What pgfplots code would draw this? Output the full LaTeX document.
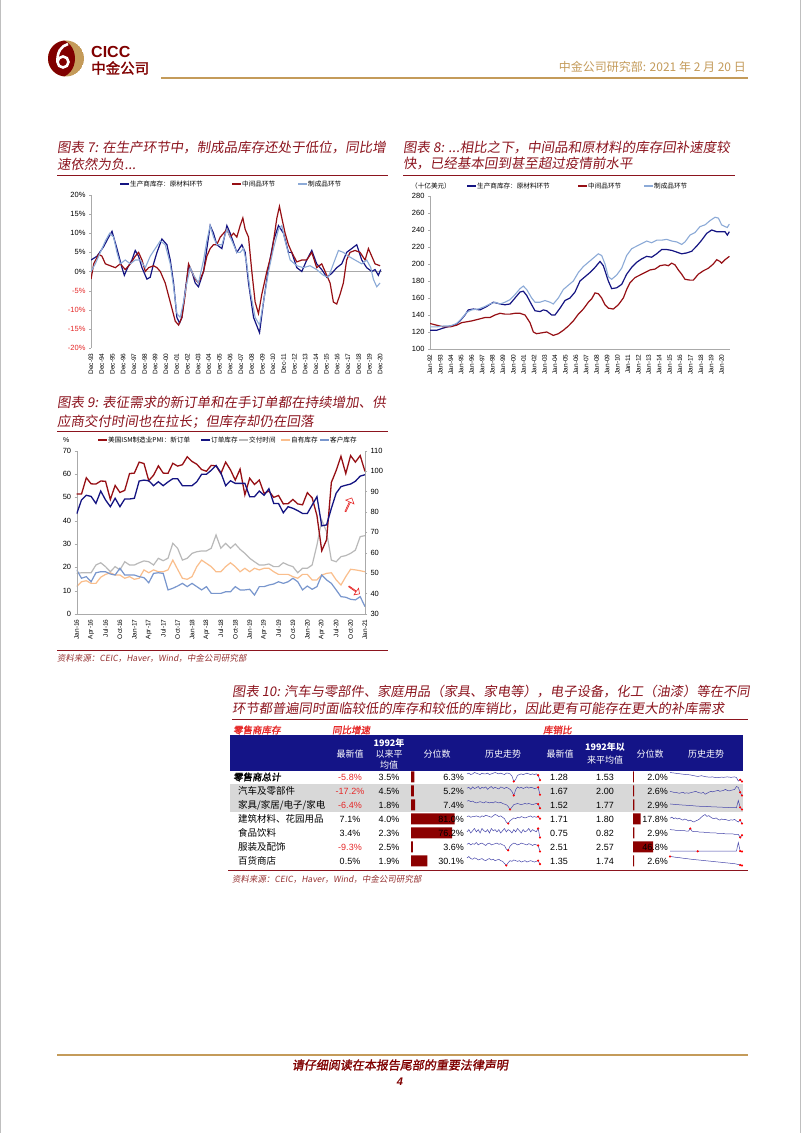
\documentclass[border=0pt]{standalone}
\usepackage{pgfplots}
\pgfplotsset{compat=1.18}
\usepackage{pgfplotstable}
\usepackage{fontspec}
\usetikzlibrary{shapes.arrows}
\setmainfont{Liberation Sans}
\newfontfamily\cjk{Noto Sans CJK SC}
\newfontfamily\cjkit{Noto Sans CJK SC}[FakeSlant=0.15]
\newfontfamily\cjkbi{Noto Sans CJK SC}[FakeSlant=0.15,FakeBold=1.5]
\newfontfamily\cjkb{Noto Sans CJK SC}[FakeBold=1.5]

\definecolor{cicc}{RGB}{128,0,0}
\definecolor{ctitle}{RGB}{140,20,30}
\definecolor{gold}{RGB}{196,155,90}
\definecolor{cnavy}{RGB}{20,20,130}
\definecolor{cred}{RGB}{150,15,20}
\definecolor{clblue}{RGB}{140,170,215}
\definecolor{cgray}{RGB}{185,185,185}
\definecolor{corange}{RGB}{250,190,140}
\definecolor{ccust}{RGB}{120,150,205}
\definecolor{cneg}{RGB}{230,40,40}
\definecolor{cband}{RGB}{20,20,135}
\definecolor{crow}{RGB}{216,216,216}
\definecolor{cbar}{RGB}{140,0,0}
\definecolor{csp}{RGB}{70,70,170}
\definecolor{caxis}{RGB}{170,170,170}
\definecolor{csrc}{RGB}{150,50,50}

\pgfplotsset{chart/.style={scale only axis, anchor=south west,
  axis line style={caxis}, tick style={caxis}, major tick length=2pt, tick align=outside,
  yticklabel style={font=\fontsize{7.5}{8}\selectfont},
  xticklabel style={rotate=90, anchor=east, font=\fontsize{6.5}{7}\selectfont},
  /pgf/number format/assume math mode=true}}

\newcommand{\leg}[4]{\draw[#3, line width=1.3pt] (#1,#2) -- ++(9,0);
  \node[anchor=west, inner sep=0pt, font=\cjk\fontsize{6.6}{7}\selectfont] at ({#1+10},#2) {#4};}

\newcommand{\spark}[5]{%
\begin{axis}[at={(#1pt,#2pt)}, anchor=west, scale only axis, width=#3pt, height=9pt, hide axis, enlargelimits=false, clip=false]
\addplot[color=csp, line width=0.5pt, mark=*, mark size=0.8pt, mark indices={#4}, mark options={fill=red,draw=red}] table[x expr=\coordindex, y=v, row sep=\\] {v\\#5};
\end{axis}}

% ---------------- data ----------------
\pgfplotstableread{
t v
1993.92 3.0
1994.48 4.0
1995.10 6.5
1995.57 9.0
1995.88 10.5
1996.34 6.0
1996.81 1.0
1997.03 -1.0
1997.34 1.0
1997.74 3.0
1998.05 5.5
1998.36 4.0
1998.68 1.0
1999.14 -2.0
1999.45 -1.5
1999.76 2.0
2000.08 5.0
2000.54 8.5
2001.01 7.0
2001.32 3.0
2001.63 -3.0
2001.94 -12.0
2002.19 -13.5
2002.41 -12.0
2002.72 -5.0
2003.03 1.5
2003.34 0.0
2003.65 -3.0
2003.96 -4.0
2004.43 0.0
2004.74 6.0
2005.05 12.0
2005.36 10.0
2005.67 7.0
2006.14 6.0
2006.61 12.0
2006.92 10.0
2007.54 5.0
2008.01 7.0
2008.32 5.0
2008.63 -3.0
2009.10 -12.0
2009.66 -16.0
2010.03 -8.0
2010.50 1.0
2010.96 8.0
2011.43 12.0
2011.90 10.0
2012.36 5.0
2012.67 5.0
2013.14 1.0
2013.61 0.0
2014.07 3.0
2014.54 5.5
2015.00 2.0
2015.47 0.5
2015.94 -1.5
2016.40 -0.5
2016.87 1.0
2017.34 2.0
2017.80 5.0
2018.27 6.0
2018.74 7.0
2019.21 3.0
2019.67 1.0
2020.14 0.0
2020.45 0.5
2020.76 -1.0
2020.98 0.5
}\ctA
\pgfplotstableread{
t v
1993.92 -2
1994.17 2
1994.63 4.5
1994.94 4
1995.26 2
1995.72 1.5
1996.19 1
1996.65 2
1997.12 0.5
1997.59 2
1998.05 4
1998.36 5
1998.68 3
1998.99 0
1999.30 1
1999.76 1.5
2000.08 1
2000.39 0
2000.85 -3
2001.32 -8
2001.79 -13
2002.10 -14
2002.41 -12
2002.72 -6
2003.03 2
2003.34 0
2003.65 -2
2003.96 -3
2004.43 0
2004.74 4
2005.05 6
2005.36 7
2005.67 7
2005.99 9
2006.30 10
2006.61 11
2006.92 9
2007.23 10
2007.54 9
2007.85 12
2008.10 14
2008.32 11
2008.63 9
2008.94 0
2009.25 -8
2009.56 -11
2009.87 -6
2010.34 0
2010.81 5
2011.28 14
2011.52 17
2011.74 14
2012.05 10
2012.36 7
2012.67 5
2013.14 2.5
2013.61 3
2014.07 3
2014.54 5
2015.00 1
2015.47 2
2015.94 -1
2016.25 -3
2016.56 -8
2016.87 -8.5
2017.18 -6
2017.49 -3
2017.80 3
2018.11 5
2018.58 5.5
2019.05 5
2019.52 3
2019.83 6
2020.14 4
2020.45 2
2020.92 1.5
}\ctB
\pgfplotstableread{
t v
1993.92 0
1994.32 2
1994.79 5
1995.26 8
1995.66 10
1996.03 9
1996.34 5
1996.65 2
1997.12 3
1997.59 2
1998.05 3
1998.52 3
1998.99 1
1999.45 4
1999.92 6
2000.39 8
2000.85 7
2001.32 2
2001.63 -4
2001.94 -11
2002.25 -12
2002.56 -8
2002.87 -3
2003.19 1
2003.50 -1
2003.96 -3
2004.43 3
2004.74 8
2005.05 12
2005.36 9
2005.67 7
2006.14 7
2006.61 11
2007.08 8
2007.54 5
2007.85 5
2008.16 6
2008.47 2
2008.78 -5
2009.25 -12
2009.66 -14
2010.03 -8
2010.50 0
2010.96 6
2011.43 11
2011.74 12
2012.05 8
2012.52 3
2013.14 1.5
2013.76 1
2014.38 1.5
2015.00 0.5
2015.63 -1
2016.09 -1.5
2016.56 2
2017.03 5.5
2017.49 5
2017.96 4
2018.58 3
2019.21 2
2019.67 3
2020.05 1
2020.29 -2
2020.61 -4
2020.92 -3
}\ctC
\pgfplotstableread{
t v
1992.00 122
1992.64 122
1993.12 124
1993.92 127
1994.40 128
1994.88 133
1995.36 140
1995.68 146
1996.16 147
1996.80 146
1997.44 150
1998.08 155
1998.72 153
1999.20 152
1999.68 153
2000.16 160
2000.64 167
2000.96 168
2001.28 163
2001.76 152
2002.08 145
2002.56 144
2002.88 146
2003.20 145
2003.68 140
2004.00 140
2004.48 148
2004.96 157
2005.44 160
2005.92 167
2006.40 180
2006.88 185
2007.36 190
2007.84 196
2008.32 203
2008.64 198
2009.12 180
2009.44 171
2009.92 172
2010.40 176
2010.88 188
2011.36 196
2011.84 202
2012.32 206
2012.80 209
2013.28 208
2013.76 212
2014.24 217
2014.72 217
2015.20 216
2015.68 214
2016.16 212
2016.64 213
2017.12 215
2017.60 221
2018.08 228
2018.56 236
2019.04 240
2019.52 238
2020.00 238
2020.32 238
2020.54 234
2020.74 238
}\cdA
\pgfplotstableread{
t v
1992.00 130
1992.64 128
1993.28 126
1993.92 126
1994.56 128
1995.04 131
1995.52 132
1996.00 133
1996.64 135
1997.28 137
1997.76 137
1998.24 140
1998.72 142
1999.20 141
1999.68 141
2000.16 142
2000.64 142
2001.12 140
2001.60 131
2001.92 120
2002.24 118
2002.72 119
2003.20 120
2003.52 118
2003.84 116
2004.32 118
2004.80 122
2005.28 127
2005.76 133
2006.24 141
2006.72 147
2007.20 155
2007.52 159
2007.84 166
2008.16 165
2008.48 160
2008.80 152
2009.12 148
2009.60 147
2010.08 152
2010.56 160
2010.88 170
2011.20 178
2011.68 184
2012.16 187
2012.64 190
2013.12 193
2013.60 194
2014.08 198
2014.56 199
2014.88 198
2015.20 201
2015.52 199
2015.84 193
2016.16 188
2016.48 182
2016.96 181
2017.28 181
2017.76 188
2018.24 192
2018.72 195
2019.20 200
2019.52 205
2019.84 203
2020.00 201
2020.32 205
2020.74 209
}\cdB
\pgfplotstableread{
t v
1992.00 126
1992.64 126
1993.28 127
1993.92 127
1994.56 130
1995.04 136
1995.52 143
1996.00 146
1996.64 147
1997.28 150
1997.76 153
1998.24 155
1998.72 153
1999.20 155
1999.68 158
2000.16 164
2000.64 171
2000.96 174
2001.28 170
2001.76 160
2002.08 155
2002.56 155
2003.04 157
2003.52 155
2003.84 153
2004.32 160
2004.80 170
2005.28 175
2005.76 180
2006.24 190
2006.72 197
2007.20 202
2007.68 207
2008.16 212
2008.48 210
2008.80 200
2009.12 185
2009.44 182
2009.92 187
2010.40 195
2010.88 210
2011.36 218
2011.84 221
2012.32 224
2012.80 227
2013.28 225
2013.76 228
2014.24 228
2014.72 229
2015.20 227
2015.68 226
2016.16 223
2016.48 226
2016.96 234
2017.44 237
2017.92 244
2018.40 246
2018.88 251
2019.36 255
2019.68 254
2020.00 246
2020.32 244
2020.54 243
2020.74 247
}\cdC
\pgfplotstableread{
m no bl sd inv ci
0 51.4 42.9 49.9 43.4 51.6
1 51.4 48.9 50.2 45.8 47.5
2 58.4 50.9 50.2 46.3 48.3
3 55.8 50.4 50.2 45.0 45.8
4 55.7 47.4 54.0 45.0 50.2
5 57.0 52.7 55.1 48.0 50.7
6 56.9 48.9 53.2 49.4 50.7
7 49.1 46.0 50.7 50.2 49.6
8 55.1 49.6 53.2 49.1 49.1
9 52.1 46.0 51.6 49.1 52.4
10 53.0 49.3 55.6 47.5 49.1
11 60.2 49.3 54.0 48.3 49.1
12 60.4 49.6 54.0 47.0 49.1
13 65.1 57.0 55.1 47.5 48.3
14 64.5 57.4 56.0 51.6 47.8
15 57.2 57.1 55.6 50.2 45.3
16 59.5 55.0 54.0 51.6 49.9
17 63.5 56.7 57.3 50.7 50.2
18 60.4 55.0 56.1 50.7 49.9
19 60.3 56.6 57.3 51.6 41.8
20 64.6 58.0 64.6 56.4 42.6
21 63.4 58.0 62.2 51.9 43.7
22 64.0 55.0 56.4 47.5 45.0
23 67.4 55.0 57.3 47.0 43.4
24 65.4 55.0 59.7 48.3 45.0
25 64.2 56.7 60.5 53.2 43.4
26 61.9 59.9 60.9 56.4 41.8
27 61.2 59.9 60.9 54.8 43.4
28 63.7 61.6 62.2 53.2 40.1
29 63.5 63.7 68.7 50.7 40.1
30 60.2 60.6 62.2 50.7 40.1
31 65.1 55.0 64.6 53.2 40.9
32 61.8 57.1 62.2 55.1 40.9
33 57.4 56.0 64.3 53.2 43.4
34 62.1 56.0 61.7 50.7 41.8
35 51.1 56.0 59.7 52.4 41.8
36 58.2 50.3 57.3 50.7 42.1
37 55.5 50.3 55.6 52.4 39.3
38 57.4 52.7 54.0 51.6 43.4
39 51.7 50.9 54.0 52.4 43.4
40 52.7 53.7 54.5 52.4 44.2
41 50.0 47.4 53.2 50.7 44.7
42 50.8 47.4 53.2 49.4 45.8
43 47.2 43.4 55.1 49.4 45.0
44 47.3 46.0 54.0 49.4 45.8
45 49.1 45.3 53.2 48.3 47.5
46 47.2 44.3 50.2 47.5 45.8
47 46.8 43.1 52.4 49.4 41.8
48 52.0 43.1 52.4 49.4 43.7
49 49.8 46.7 54.0 46.7 42.1
50 42.2 50.3 63.8 46.7 43.4
51 27.1 37.8 76.0 49.1 49.1
52 31.8 38.2 70.3 49.9 46.7
53 56.4 45.3 56.4 50.2 45.0
54 61.5 51.8 55.6 46.7 41.8
55 67.6 54.6 58.1 44.2 38.5
56 60.2 55.2 58.6 48.3 38.2
57 67.9 55.7 59.7 51.9 37.2
58 65.1 56.9 61.3 51.6 36.9
59 67.9 59.1 67.9 51.2 38.5
60 61.1 59.7 68.4 50.7 33.6
}\ism

\begin{document}
\begin{tikzpicture}[x=1pt,y=1pt]
\path[use as bounding box] (0,0) rectangle (802,1133);
\fill[white] (0,0) rectangle (802,1133);
\draw[gray!50, line width=0.8pt] (0.5,0) -- (0.5,1133);
\draw[gray!50, line width=0.8pt] (800.5,0) -- (800.5,1133);

% ---------- header ----------
\begin{scope}
\clip (66,1074.5) circle (18);
\fill[gold] (66,1074.5) circle (18);
\fill[cicc] (59,1074.5) ellipse (16 and 19);
\end{scope}
\draw[white, line width=2.6pt] (63,1071) circle (5.5);
\draw[white, line width=2.6pt] (57.5,1071) .. controls (57,1081) and (61,1087) .. (68,1089);
\fill[cicc] (63,1071) circle (2.2);
\node[anchor=west, inner sep=0pt, text=cicc, font=\bfseries\fontsize{16}{16}\selectfont] at (91,1080.5) {CICC};
\node[anchor=west, inner sep=0pt, text=cicc, font=\cjkb\fontsize{14.5}{15}\selectfont] at (91,1065) {中金公司};
\node[anchor=base east, inner sep=0pt, text=gold, font=\cjk\fontsize{12}{12}\selectfont] at (746,1061) {中金公司研究部: 2021 年 2 月 20 日};
\draw[gold, line width=1.6pt] (161,1055) -- (748,1055);

% ---------- chart 7 ----------
\node[anchor=base west, inner sep=0pt, text=ctitle, font=\cjkit\fontsize{13.5}{14}\selectfont] at (57,980) {图表 7: 在生产环节中，制成品库存还处于低位，同比增};
\node[anchor=base west, inner sep=0pt, text=ctitle, font=\cjkit\fontsize{13.5}{14}\selectfont] at (57,963) {速依然为负...};
\draw[ctitle, line width=0.6pt] (57,958) -- (388,958);
\leg{120}{949}{cnavy}{生产商库存：原材料环节}
\leg{232}{949}{cred}{中间品环节}
\leg{298}{949}{clblue}{制成品环节}

\begin{axis}[chart, at={(91pt,785pt)}, width=291pt, height=153pt,
  xmin=1993.917, xmax=2021.1, ymin=-20, ymax=20,
  axis x line*=bottom, axis y line*=left, x axis line style={draw=none}, xtick style={draw=none},
  xtick={1993.917,1994.917,1995.917,1996.917,1997.917,1998.917,1999.917,2000.917,2001.917,2002.917,2003.917,2004.917,2005.917,2006.917,2007.917,2008.917,2009.917,2010.917,2011.917,2012.917,2013.917,2014.917,2015.917,2016.917,2017.917,2018.917,2019.917,2020.917},
  xticklabels={Dec-93,Dec-94,Dec-95,Dec-96,Dec-97,Dec-98,Dec-99,Dec-00,Dec-01,Dec-02,Dec-03,Dec-04,Dec-05,Dec-06,Dec-07,Dec-08,Dec-09,Dec-10,Dec-11,Dec-12,Dec-13,Dec-14,Dec-15,Dec-16,Dec-17,Dec-18,Dec-19,Dec-20},
  ytick={-20,-15,-10,-5,0,5,10,15,20},
  yticklabels={{\color{cneg}-20\%},{\color{cneg}-15\%},{\color{cneg}-10\%},{\color{cneg}-5\%},0\%,5\%,10\%,15\%,20\%},
  extra y ticks={0}, extra y tick labels={}, extra y tick style={grid=major, major grid style={caxis, line width=0.7pt}, major tick length=0pt}]
\addplot[cnavy, line width=1.2pt] table[x=t,y=v]{\ctA};
\addplot[cred, line width=1.2pt] table[x=t,y=v]{\ctB};
\addplot[clblue, line width=1.1pt] table[x=t,y=v]{\ctC};
\end{axis}

% ---------- chart 8 ----------
\node[anchor=base west, inner sep=0pt, text=ctitle, font=\cjkit\fontsize{13.5}{14}\selectfont] at (403,980) {图表 8: ...相比之下，中间品和原材料的库存回补速度较};
\node[anchor=base west, inner sep=0pt, text=ctitle, font=\cjkit\fontsize{13.5}{14}\selectfont] at (403,964) {快，已经基本回到甚至超过疫情前水平};
\draw[ctitle, line width=0.6pt] (403,958) -- (735,958);
\node[anchor=west, inner sep=0pt, font=\cjk\fontsize{6.6}{7}\selectfont] at (411,947) {（十亿美元）};
\leg{467}{947}{cnavy}{生产商库存：原材料环节}
\leg{578}{947}{cred}{中间品环节}
\leg{644}{947}{clblue}{制成品环节}

\begin{axis}[chart, at={(430pt,784pt)}, width=300pt, height=153pt,
  xmin=1992, xmax=2020.8, ymin=100, ymax=280,
  axis x line*=bottom, axis y line*=left, xtick style={draw=none},
  xtick={1992,1993,...,2020},
  xticklabels={Jan-92,Jan-93,Jan-94,Jan-95,Jan-96,Jan-97,Jan-98,Jan-99,Jan-00,Jan-01,Jan-02,Jan-03,Jan-04,Jan-05,Jan-06,Jan-07,Jan-08,Jan-09,Jan-10,Jan-11,Jan-12,Jan-13,Jan-14,Jan-15,Jan-16,Jan-17,Jan-18,Jan-19,Jan-20},
  ytick={100,120,...,280}]
\addplot[cnavy, line width=1.2pt] table[x=t,y=v]{\cdA};
\addplot[cred, line width=1.2pt] table[x=t,y=v]{\cdB};
\addplot[clblue, line width=1.1pt] table[x=t,y=v]{\cdC};
\end{axis}

% ---------- chart 9 ----------
\node[anchor=base west, inner sep=0pt, text=ctitle, font=\cjkit\fontsize{13.5}{14}\selectfont] at (57,725) {图表 9: 表征需求的新订单和在手订单都在持续增加、供};
\node[anchor=base west, inner sep=0pt, text=ctitle, font=\cjkit\fontsize{13.5}{14}\selectfont] at (57,706) {应商交付时间也在拉长；但库存却仍在回落};
\draw[ctitle, line width=0.6pt] (57,702) -- (388,702);
\node[anchor=west, inner sep=0pt, font=\fontsize{7}{7}\selectfont] at (63,693) {\%};
\leg{98}{693}{cred}{美国ISM制造业PMI：新订单}
\leg{201}{693}{cnavy}{订单库存}
\leg{239}{693}{cgray}{交付时间}
\leg{281}{693}{corange}{自有库存}
\leg{320}{693}{ccust}{客户库存}

\begin{axis}[chart, at={(76.7pt,519pt)}, width=288.3pt, height=163.3pt,
  xmin=0, xmax=60, ymin=30, ymax=110,
  axis x line=none, axis y line*=right, ytick={30,40,...,110},
  yticklabel style={font=\fontsize{7.5}{8}\selectfont}]
\addplot[cgray, line width=1.2pt] table[x=m,y=sd]{\ism};
\addplot[corange, line width=1.2pt] table[x=m,y=inv]{\ism};
\addplot[ccust, line width=1.2pt] table[x=m,y=ci]{\ism};
\end{axis}
\begin{axis}[chart, at={(76.7pt,519pt)}, width=288.3pt, height=163.3pt,
  xmin=0, xmax=60, ymin=0, ymax=70,
  axis x line*=bottom, axis y line*=left, xtick style={draw=none},
  xtick={0,3,...,60},
  xticklabels={Jan-16,Apr-16,Jul-16,Oct-16,Jan-17,Apr-17,Jul-17,Oct-17,Jan-18,Apr-18,Jul-18,Oct-18,Jan-19,Apr-19,Jul-19,Oct-19,Jan-20,Apr-20,Jul-20,Oct-20,Jan-21},
  ytick={0,10,...,70}]
\addplot[cred, line width=1.3pt] table[x=m,y=no]{\ism};
\addplot[cnavy, line width=1.3pt] table[x=m,y=bl]{\ism};
\end{axis}
\node[single arrow, draw=cneg, fill=white, line width=0.6pt, minimum height=15pt, minimum width=9pt, single arrow head extend=2pt, inner sep=0pt, rotate=65] at (348.5,628) {};
\node[single arrow, draw=cneg, fill=white, line width=0.6pt, minimum height=13pt, minimum width=8pt, single arrow head extend=2pt, inner sep=0pt, rotate=-35] at (354,543) {};
\draw[ctitle, line width=0.8pt] (57,483) -- (388,483);
\node[anchor=west, inner sep=0pt, text=csrc, font=\cjkit\fontsize{8.5}{9}\selectfont] at (57,475) {资料来源：CEIC，Haver，Wind，中金公司研究部};

% ---------- table (chart 10) ----------
\node[anchor=base west, inner sep=0pt, text=ctitle, font=\cjkit\fontsize{13.3}{14}\selectfont] at (232,436) {图表 10: 汽车与零部件、家庭用品（家具、家电等），电子设备，化工（油漆）等在不同};
\node[anchor=base west, inner sep=0pt, text=ctitle, font=\cjkit\fontsize{13.3}{14}\selectfont] at (232,419) {环节都普遍同时面临较低的库存和较低的库销比，因此更有可能存在更大的补库需求};
\draw[ctitle, line width=0.6pt] (232,414) -- (748,414);
\node[anchor=west, inner sep=0pt, text=cneg, font=\cjkbi\fontsize{9.5}{10}\selectfont] at (233,403) {零售商库存};
\node[anchor=west, inner sep=0pt, text=cneg, font=\cjkbi\fontsize{9.5}{10}\selectfont] at (332,403) {同比增速};
\node[anchor=west, inner sep=0pt, text=cneg, font=\cjkbi\fontsize{9.5}{10}\selectfont] at (543,403) {库销比};
\fill[cband] (230,362) rectangle (743,398);
\begin{scope}[every node/.style={text=white, inner sep=0pt, font=\cjk\fontsize{9}{10}\selectfont}]
\node at (350,379) {最新值};
\node at (389,390) {\fontsize{9}{10}\selectfont\bfseries 1992年};
\node at (389,379) {以来平};
\node at (389,368) {均值};
\node at (437,379) {分位数};
\node at (503,379) {历史走势};
\node at (560,379) {最新值};
\node at (605,386) {\bfseries 1992年以};
\node at (605,373) {来平均值};
\node at (650,379) {分位数};
\node at (706,379) {历史走势};
\end{scope}
\fill[crow] (230,321) rectangle (743,349);
% names
\node[anchor=west, inner sep=0pt, font=\cjkbi\fontsize{9.5}{10}\selectfont] at (233,356) {零售商总计};
\begin{scope}[every node/.style={anchor=west, inner sep=0pt, font=\cjk\fontsize{9.5}{10}\selectfont}]
\node at (238,342) {汽车及零部件};
\node at (238,328) {家具/家居/电子/家电};
\node at (238,314) {建筑材料、花园用品};
\node at (238,300) {食品饮料};
\node at (238,286) {服装及配饰};
\node at (238,272) {百货商店};
\end{scope}
\begin{scope}[every node/.style={inner sep=0pt, font=\fontsize{9}{10}\selectfont}]
\node[text=cneg] at (350,356) {-5.8\%};
\node[text=cneg] at (350,342) {-17.2\%};
\node[text=cneg] at (350,328) {-6.4\%};
\node at (350,314) {7.1\%};
\node at (350,300) {3.4\%};
\node[text=cneg] at (350,286) {-9.3\%};
\node at (350,272) {0.5\%};
\node at (389,356) {3.5\%};
\node at (389,342) {4.5\%};
\node at (389,328) {1.8\%};
\node at (389,314) {4.0\%};
\node at (389,300) {2.3\%};
\node at (389,286) {2.5\%};
\node at (389,272) {1.9\%};
\node at (559,356) {1.28};
\node at (559,342) {1.67};
\node at (559,328) {1.52};
\node at (559,314) {1.71};
\node at (559,300) {0.75};
\node at (559,286) {2.51};
\node at (559,272) {1.35};
\node at (605,356) {1.53};
\node at (605,342) {2.00};
\node at (605,328) {1.77};
\node at (605,314) {1.80};
\node at (605,300) {0.82};
\node at (605,286) {2.57};
\node at (605,272) {1.74};
\end{scope}
% percentile bars
\begin{axis}[at={(411pt,265pt)}, anchor=south west, scale only axis, width=54pt, height=98pt, hide axis,
  xmin=0, xmax=100, ymin=0.5, ymax=7.5, y dir=reverse, xbar, bar width=11pt]
\addplot[fill=cbar, draw=none] coordinates {(6.3,1) (5.2,2) (7.4,3) (81.0,4) (76.2,5) (3.6,6) (30.1,7)};
\end{axis}
\begin{axis}[at={(633pt,265pt)}, anchor=south west, scale only axis, width=43pt, height=98pt, hide axis,
  xmin=0, xmax=100, ymin=0.5, ymax=7.5, y dir=reverse, xbar, bar width=11pt]
\addplot[fill=cbar, draw=none] coordinates {(2.0,1) (2.6,2) (2.9,3) (17.8,4) (2.9,5) (46.8,6) (2.6,7)};
\end{axis}
\begin{scope}[every node/.style={anchor=east, inner sep=0pt, font=\fontsize{9}{10}\selectfont}]
\node at (464,356) {6.3\%};
\node at (464,342) {5.2\%};
\node at (464,328) {7.4\%};
\node at (464,314) {81.0\%};
\node at (464,300) {76.2\%};
\node at (464,286) {3.6\%};
\node at (464,272) {30.1\%};
\node at (668,356) {2.0\%};
\node at (668,342) {2.6\%};
\node at (668,328) {2.9\%};
\node at (668,314) {17.8\%};
\node at (668,300) {2.9\%};
\node at (668,286) {46.8\%};
\node at (668,272) {2.6\%};
\end{scope}
% sparklines
\spark{467}{356}{73}{26,39,40}{5\\6\\4\\5\\7\\6\\5\\4\\6\\5\\5\\6\\4\\5\\6\\7\\6\\5\\6\\5\\4\\6\\6\\5\\2\\-6\\-3\\3\\4\\5\\4\\5\\6\\5\\4\\5\\4\\5\\3\\-4\\}
\spark{467}{342}{73}{26,39,40}{6\\8\\3\\9\\5\\7\\10\\4\\8\\6\\9\\3\\7\\10\\5\\8\\6\\4\\9\\7\\5\\8\\6\\3\\-2\\-12\\2\\9\\6\\8\\5\\7\\9\\6\\8\\7\\5\\6\\8\\-10\\}
\spark{467}{328}{73}{24,39,40}{8\\9\\7\\8\\6\\5\\6\\7\\6\\5\\7\\6\\5\\6\\5\\7\\6\\5\\6\\4\\3\\2\\-1\\-6\\-2\\2\\3\\4\\3\\2\\3\\4\\3\\4\\3\\2\\3\\4\\3\\-4\\}
\spark{467}{314}{73}{23,39,40}{5\\6\\4\\5\\5\\6\\5\\4\\6\\5\\7\\6\\5\\4\\6\\8\\7\\5\\6\\4\\2\\-3\\-5\\-1\\1\\3\\2\\4\\3\\5\\4\\3\\4\\5\\6\\4\\5\\4\\5\\2\\}
\spark{467}{300}{73}{39,40}{3\\5\\2\\4\\6\\3\\5\\2\\6\\4\\3\\5\\2\\6\\4\\5\\3\\5\\2\\4\\6\\3\\5\\4\\2\\5\\3\\6\\4\\2\\5\\3\\4\\6\\3\\5\\4\\3\\6\\-2\\}
\spark{467}{286}{73}{23,39,40}{4\\6\\3\\5\\4\\7\\3\\5\\6\\4\\2\\5\\6\\3\\4\\5\\6\\4\\5\\3\\2\\-4\\-6\\1\\4\\6\\5\\3\\4\\6\\5\\4\\3\\5\\4\\2\\4\\3\\2\\-8\\}
\spark{467}{272}{73}{22,39,40}{6\\8\\5\\4\\6\\5\\3\\4\\5\\3\\2\\4\\5\\3\\4\\2\\3\\4\\2\\1\\-2\\-5\\-1\\2\\1\\3\\2\\1\\2\\0\\1\\2\\0\\1\\2\\1\\0\\1\\2\\-3\\}
\spark{670}{356}{72}{39,40}{1.65\\1.64\\1.63\\1.62\\1.60\\1.60\\1.59\\1.58\\1.57\\1.56\\1.56\\1.55\\1.53\\1.52\\1.50\\1.49\\1.50\\1.52\\1.50\\1.48\\1.47\\1.46\\1.46\\1.47\\1.45\\1.44\\1.44\\1.45\\1.46\\1.45\\1.46\\1.47\\1.46\\1.45\\1.46\\1.47\\1.44\\1.30\\1.35\\1.28\\}
\spark{670}{342}{72}{39,40}{2.1\\2.05\\2.0\\2.0\\1.95\\1.9\\1.95\\2.0\\1.9\\1.95\\1.9\\1.95\\2.0\\2.05\\2.1\\2.0\\1.95\\1.9\\2.0\\1.8\\1.9\\2.0\\2.1\\2.05\\2.1\\2.15\\2.2\\2.1\\2.15\\2.2\\2.3\\2.2\\2.15\\2.2\\2.25\\2.3\\2.6\\2.5\\2.0\\1.67\\}
\spark{670}{328}{72}{39,40}{2.0\\1.98\\1.97\\1.95\\1.95\\1.93\\1.92\\1.90\\1.90\\1.88\\1.88\\1.86\\1.85\\1.84\\1.82\\1.81\\1.80\\1.80\\1.79\\1.78\\1.78\\1.77\\1.76\\1.75\\1.75\\1.74\\1.73\\1.72\\1.72\\1.71\\1.70\\1.70\\1.69\\1.69\\1.68\\1.68\\1.67\\2.3\\1.7\\1.52\\}
\spark{670}{314}{72}{39,40}{1.85\\1.88\\1.84\\1.86\\1.83\\1.85\\1.82\\1.80\\1.83\\1.81\\1.78\\1.80\\1.77\\1.75\\1.78\\1.80\\1.83\\1.88\\1.92\\1.95\\1.90\\1.92\\1.88\\1.85\\1.84\\1.86\\1.82\\1.80\\1.83\\1.81\\1.82\\1.80\\1.79\\1.81\\1.80\\1.82\\1.78\\1.75\\1.80\\1.71\\}
\spark{670}{300}{72}{12,39,40}{0.88\\0.87\\0.87\\0.86\\0.86\\0.86\\0.85\\0.85\\0.85\\0.84\\0.84\\0.90\\0.84\\0.83\\0.83\\0.83\\0.82\\0.82\\0.82\\0.81\\0.81\\0.81\\0.80\\0.80\\0.80\\0.80\\0.79\\0.79\\0.79\\0.79\\0.78\\0.78\\0.78\\0.78\\0.78\\0.77\\0.77\\0.77\\0.70\\0.75\\}
\spark{670}{286}{72}{16,39,40}{2.6\\2.6\\2.6\\2.6\\2.6\\2.6\\2.6\\2.6\\2.6\\2.6\\2.6\\2.6\\2.6\\2.6\\2.6\\2.55\\2.6\\2.6\\2.6\\2.6\\2.6\\2.6\\2.6\\2.6\\2.6\\2.6\\2.6\\2.6\\2.6\\2.6\\2.6\\2.6\\2.6\\2.6\\2.6\\2.6\\2.6\\4.5\\2.6\\2.51\\}
\spark{670}{272}{72}{1,39,40}{2.3\\2.28\\2.25\\2.22\\2.2\\2.18\\2.15\\2.12\\2.1\\2.08\\2.05\\2.02\\2.0\\1.98\\1.96\\1.94\\1.92\\1.9\\1.88\\1.86\\1.84\\1.82\\1.8\\1.78\\1.76\\1.74\\1.72\\1.7\\1.68\\1.66\\1.64\\1.62\\1.6\\1.58\\1.56\\1.54\\1.5\\1.45\\1.4\\1.35\\}
\draw[ctitle, line width=0.8pt] (228,263) -- (748,263);
\node[anchor=west, inner sep=0pt, text=csrc, font=\cjkit\fontsize{8.5}{9}\selectfont] at (232,254) {资料来源：CEIC，Haver，Wind，中金公司研究部};

% ---------- footer ----------
\draw[gold, line width=2pt] (57,78) -- (748,78);
\node[inner sep=0pt, text=cicc, font=\cjkbi\fontsize{12}{12}\selectfont] at (400,68) {请仔细阅读在本报告尾部的重要法律声明};
\node[inner sep=0pt, text=cicc, font=\bfseries\itshape\fontsize{11}{11}\selectfont] at (400,51) {4};
\end{tikzpicture}
\end{document}
